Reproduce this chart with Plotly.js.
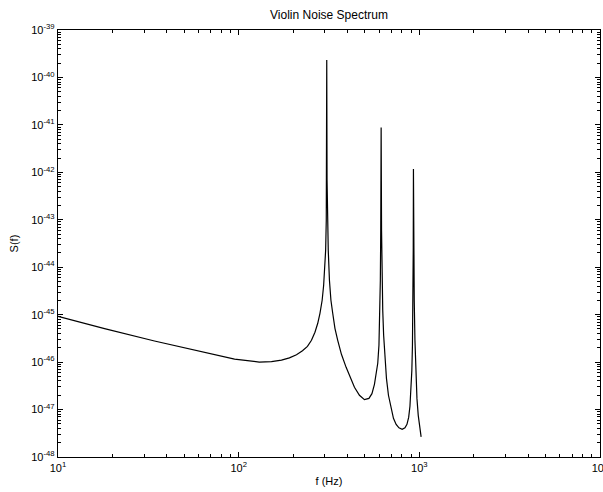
<!DOCTYPE html>
<html>
<head>
<meta charset="utf-8">
<script src="https://cdn.plot.ly/plotly-3.0.1.min.js"></script>
<style>html,body{margin:0;padding:0;background:#fff;}#plot{width:603px;height:492px;}</style>
</head>
<body>
<div id="plot"></div>
<script>
// Frequency (Hz)
const freq = [10, 18.1, 34.2, 64.7, 94.9, 130, 151.9, 172.6, 190.9, 208.9, 225.5, 240.3, 252.9, 264.4, 274.0, 281.8, 289.8,
  295.4, 299.6, 303.0, 305.4, 306.5, 307.3, 308.5, 310.4, 313.2, 318.0, 324.1, 331.6, 341.1, 353.4, 370.5, 393.4,
  413.0, 437.4, 466.1, 496.8, 526.1, 546.6, 564.3, 578.9, 588.6, 597.7, 603.8, 608.4, 611.5, 614.6, 617.8, 621.7,
  627.3, 634.5, 645.1, 657.6, 674.6, 698.2, 719.0, 744.2, 771.3, 803.4, 832.6, 854.1, 872.8, 887.3, 898.6, 909.0,
  916.0, 921.8, 925.3, 927.7, 931.2, 937.2, 945.6, 957.7, 970.0, 986.1, 1005.1, 1023];
// Noise spectrum S(f)
const spectrum = [9.25e-46, 5.09e-46, 2.79e-46, 1.58e-46, 1.16e-46, 1.00e-46, 1.02e-46, 1.10e-46, 1.23e-46, 1.43e-46, 1.73e-46,
  2.15e-46, 2.88e-46, 4.26e-46, 6.59e-46, 1.07e-45, 2.01e-45, 4.17e-45, 8.64e-45, 2.29e-44, 9.82e-44, 6.84e-43, 2.33e-40,
  6.84e-43, 9.82e-44, 2.29e-44, 5.32e-45, 2.01e-45, 1.07e-45, 5.16e-46, 2.88e-46, 1.46e-46, 7.76e-47,
  4.78e-47, 2.94e-47, 2.00e-47, 1.62e-47, 1.72e-47, 2.16e-47, 3.40e-47, 6.10e-47, 9.44e-47, 2.26e-46, 7.62e-46, 5.32e-45,
  6.04e-44, 8.85e-42, 6.04e-44, 5.32e-45,
  1.24e-45, 3.67e-46, 1.09e-46, 4.55e-47, 2.00e-47, 1.01e-47, 6.52e-48, 4.87e-48, 4.11e-48, 3.82e-48, 4.11e-48, 4.87e-48,
  6.84e-48, 1.17e-47, 2.31e-47, 6.71e-47,
  2.26e-46, 2.01e-45, 2.29e-44, 1.17e-42, 2.29e-44, 2.01e-45, 2.88e-46, 5.27e-47, 1.72e-47, 7.55e-48, 4.01e-48, 2.65e-48];

const xTickVals = [1e1, 1e2, 1e3, 1e4];
const xTickText = ['10<sup>1</sup>', '10<sup>2</sup>', '10<sup>3</sup>', '10<sup>4</sup>'];
const yTickVals = [1e-48, 1e-47, 1e-46, 1e-45, 1e-44, 1e-43, 1e-42, 1e-41, 1e-40, 1e-39];
const yTickText = ['10<sup>-48</sup>', '10<sup>-47</sup>', '10<sup>-46</sup>', '10<sup>-45</sup>', '10<sup>-44</sup>',
  '10<sup>-43</sup>', '10<sup>-42</sup>', '10<sup>-41</sup>', '10<sup>-40</sup>', '10<sup>-39</sup>'];

const titleText = 'Violin Noise Spectrum';
const xLabel = 'f (Hz)';
const yLabel = 'S(f)';

// minor tick positions: 2..9 within each decade
function minorVals(decades) {
  const out = [];
  for (let i = 0; i < decades.length - 1; i++) {
    for (let k = 2; k <= 9; k++) out.push(decades[i] * k);
  }
  return out;
}

const fam = 'Liberation Sans, Arial, sans-serif';
const font = {family: fam, size: 11, color: '#000'};
const axisBase = {
  type: 'log', showline: true, mirror: 'ticks', linecolor: '#000', linewidth: 1.3,
  ticks: 'inside', ticklen: 5, tickwidth: 1, tickcolor: '#000', tickmode: 'array',
  showgrid: false, zeroline: false, fixedrange: true, ticklabeloverflow: 'allow',
  tickfont: font
};
const minorBase = {
  type: 'log', showline: true, mirror: 'ticks', linecolor: '#000', linewidth: 1.3,
  ticks: 'inside', ticklen: 3, tickwidth: 1, tickcolor: '#000', tickmode: 'array',
  showticklabels: false, showgrid: false, zeroline: false, fixedrange: true
};

const layout = {
  width: 603, height: 492,
  margin: {l: 58, r: 3, t: 30, b: 35},
  paper_bgcolor: '#fff', plot_bgcolor: '#fff',
  font: font, showlegend: false,
  title: {text: titleText, font: {family: fam, size: 12, color: '#000'}, x: 0.5, xref: 'paper', xanchor: 'center', y: 1 - 15/492, yref: 'container', yanchor: 'middle'},
  xaxis: Object.assign({}, axisBase, {range: [1, 4], tickvals: xTickVals, ticktext: xTickText,
    title: {text: xLabel, font: font, standoff: 4}, automargin: false}),
  yaxis: Object.assign({}, axisBase, {range: [-48, -39], tickvals: yTickVals, ticktext: yTickText,
    title: {text: yLabel, font: font, standoff: 10}, automargin: false}),
  xaxis2: Object.assign({}, minorBase, {range: [1, 4], tickvals: minorVals(xTickVals), overlaying: 'x', anchor: 'y2', side: 'bottom'}),
  yaxis2: Object.assign({}, minorBase, {range: [-48, -39], tickvals: minorVals(yTickVals), overlaying: 'y', anchor: 'x2', side: 'left'})
};

Plotly.newPlot('plot', [
  {x: freq, y: spectrum, type: 'scatter', mode: 'lines', line: {color: '#000', width: 1.2}, hoverinfo: 'skip'},
  {x: [], y: [], type: 'scatter', mode: 'lines', xaxis: 'x2', yaxis: 'y2', hoverinfo: 'skip', showlegend: false}
], layout, {staticPlot: true, displayModeBar: false});
</script>
</body>
</html>
